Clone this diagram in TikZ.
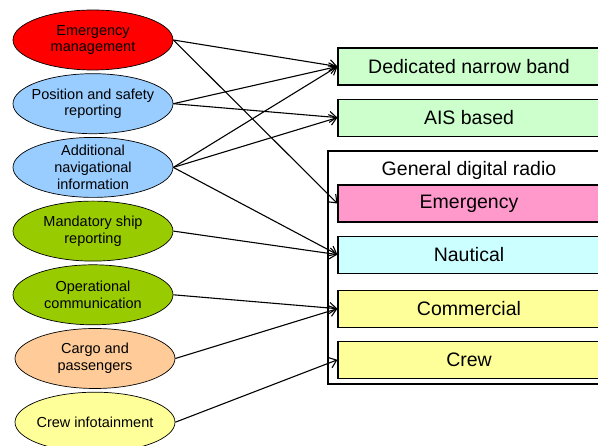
\documentclass[tikz,border=0pt]{standalone}
\usepackage{fontspec}
\setmainfont{Liberation Sans}
\usetikzlibrary{shapes.geometric, positioning, arrows.meta}
\definecolor{svcred}{HTML}{FF0000}
\definecolor{svcblue}{HTML}{99CCFF}
\definecolor{svcgreen}{HTML}{99CC00}
\definecolor{svcorange}{HTML}{FFCC99}
\definecolor{svcyellow}{HTML}{FFFF99}
\definecolor{chgreen}{HTML}{CCFFCC}
\definecolor{chpink}{HTML}{FF99CC}
\definecolor{chcyan}{HTML}{CCFFFF}
\definecolor{chyellow}{HTML}{FFFF99}
\tikzset{>={Straight Barb[length=7pt,width=11pt]},
node distance=3pt,
service/.style={ellipse, draw, line width=0.7pt, minimum width=160pt,
  minimum height=60pt, inner xsep=-14pt, inner ysep=-10pt, align=center,
  font=\fontsize{14.5}{16.7}\selectfont},
channel/.style={rectangle, draw, line width=1.1pt, minimum width=262pt,
  minimum height=37pt, inner sep=0pt, font=\fontsize{19.5}{22}\selectfont},
link/.style={->, line width=1.1pt}}
\begin{document}
\begin{tikzpicture}[x=1pt,y=-1pt]
\clip (0,0) rectangle (598,446);
% services
\node[service,fill=svcred] (em) at (93,40) {Emergency\\management};
\node[service,fill=svcblue,below=of em] (ps) {Position and safety\\reporting};
\node[service,fill=svcblue,below=of ps] (an) {Additional\\navigational\\information};
\node[service,fill=svcgreen,below=of an] (ms) {Mandatory ship\\reporting};
\node[service,fill=svcgreen,below=of ms] (oc) {Operational\\communication};
\node[service,fill=svcorange,below=of oc,xshift=2pt] (cp) {Cargo and\\passengers};
\node[service,fill=svcyellow,below=of cp] (ci) {Crew infotainment};
% channels
\draw[line width=1.1pt] (328,151) rectangle (640,384);
\node[channel,fill=chgreen] (dnb) at (469,66.5) {Dedicated narrow band};
\node[channel,fill=chgreen,below=13pt of dnb] (ais) {AIS based};
\node[font=\fontsize{19.5}{22}\selectfont] (gdr) at (469,170) {General digital radio};
\node[channel,fill=chpink] (emg) at (469,203.5) {Emergency};
\node[channel,fill=chcyan,below=13pt of emg] (nau) {Nautical};
\node[channel,fill=chyellow,below=16pt of nau] (com) {Commercial};
\node[channel,fill=chyellow,below=13pt of com] (crw) {Crew};
% links
\draw[link] (em.east) -- (dnb.west);
\draw[link] (em.east) -- (emg.west);
\draw[link] (ps.east) -- (dnb.west);
\draw[link] (ps.east) -- (ais.west);
\draw[link] (an.east) -- (dnb.west);
\draw[link] (an.east) -- (ais.west);
\draw[link] (an.east) -- (nau.west);
\draw[link] (ms.east) -- (nau.west);
\draw[link] (oc.east) -- (com.west);
\draw[link] (cp.east) -- (com.west);
\draw[link] (ci.east) -- (crw.west);
\end{tikzpicture}
\end{document}
